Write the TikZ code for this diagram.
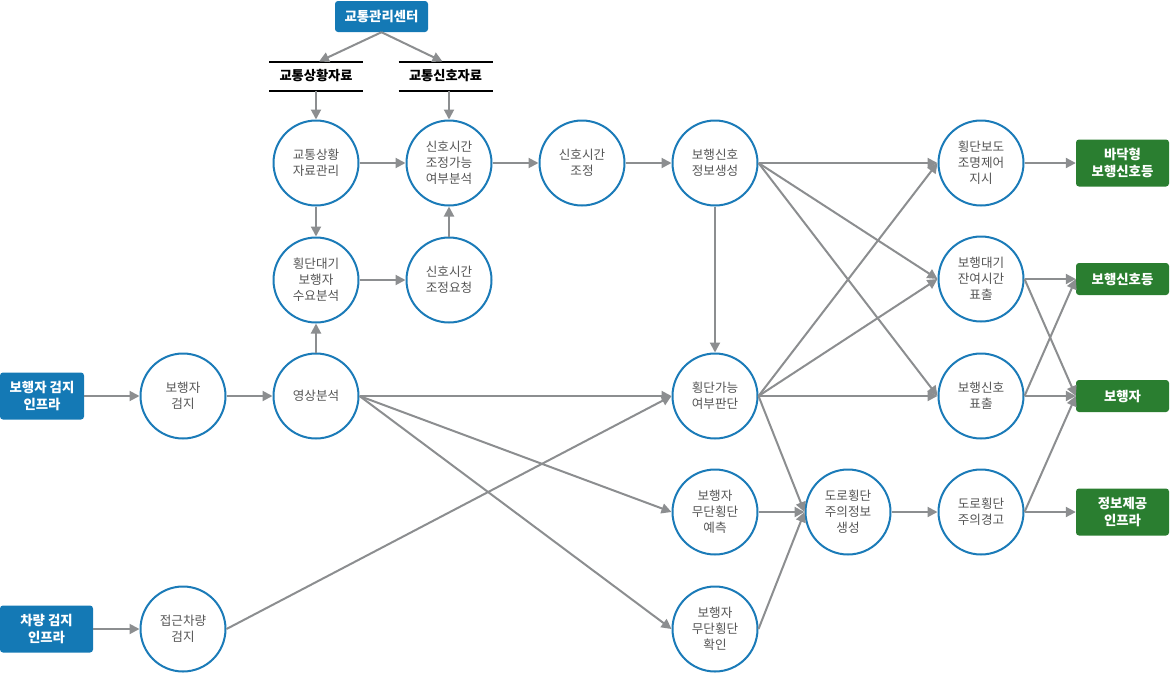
\documentclass[tikz,border=0pt]{standalone}
\usepackage{fontspec}
\setmainfont{Noto Sans CJK KR}
\usetikzlibrary{arrows.meta}
\definecolor{cblue}{HTML}{1B7BB8}
\definecolor{bbox}{HTML}{1479B5}
\definecolor{gbox}{HTML}{2A7E30}
\definecolor{agray}{HTML}{8C8E90}
\definecolor{tgray}{HTML}{555555}
\begin{document}
\begin{tikzpicture}[x=1pt,y=-1pt,
  proc/.style={circle, draw=cblue, line width=2pt, fill=white, minimum size=85pt, inner sep=0pt, align=center, text=tgray, font=\fontsize{12.6}{16}\selectfont},
  bluebox/.style={rectangle, rounded corners=3pt, fill=bbox, text=white, align=center, inner sep=0pt, font=\fontsize{13.4}{16.5}\selectfont\bfseries},
  greenbox/.style={bluebox, fill=gbox, minimum width=93pt},
  databox/.style={rectangle, minimum width=94pt, minimum height=29pt, inner sep=0pt, outer sep=0pt, text=black, font=\fontsize{13.2}{16}\selectfont\bfseries},
  rule/.style={draw=black, line width=2pt},
  arr/.style={draw=agray, line width=2pt, -{Triangle[length=10pt,width=10pt]}}
]
\useasboundingbox (0,0) rectangle (1170,673);

% top boxes
\node[bluebox, minimum width=93pt, minimum height=31pt] (tmc) at (381.5,16.5) {교통관리센터};
\node[databox] (dsit) at (316,76) {교통상황자료};
\node[databox] (dsig) at (445.5,76) {교통신호자료};
\draw[rule] (dsit.north west) -- (dsit.north east);
\draw[rule] (dsit.south west) -- (dsit.south east);
\draw[rule] (dsig.north west) -- (dsig.north east);
\draw[rule] (dsig.south west) -- (dsig.south east);

% left boxes
\node[bluebox, minimum width=84pt, minimum height=47pt] (pinf) at (42,396) {보행자 검지\\인프라};
\node[bluebox, minimum width=93pt, minimum height=47pt] (vinf) at (46.5,629) {차량 검지\\인프라};

% right boxes
\node[greenbox, minimum height=47pt] (g1) at (1122.5,163) {바닥형\\보행신호등};
\node[greenbox, minimum height=32pt] (g2) at (1122.5,279) {보행신호등};
\node[greenbox, minimum height=32pt] (g3) at (1122.5,396) {보행자};
\node[greenbox, minimum height=47pt] (g4) at (1122.5,512) {정보제공\\인프라};

% circles
\node[proc] (c11) at (316,163) {교통상황\\자료관리};
\node[proc] (c12) at (449,163) {신호시간\\조정가능\\여부분석};
\node[proc] (c13) at (582,163) {신호시간\\조정};
\node[proc] (c14) at (715,163) {보행신호\\정보생성};
\node[proc] (c16) at (981,163) {횡단보도\\조명제어\\지시};

\node[proc] (c21) at (316,280) {횡단대기\\보행자\\수요분석};
\node[proc] (c22) at (449,280) {신호시간\\조정요청};
\node[proc] (c26) at (981,279) {보행대기\\잔여시간\\표출};

\node[proc] (c30) at (183,396) {보행자\\검지};
\node[proc] (c31) at (316,396) {영상분석};
\node[proc] (c34) at (715,396) {횡단가능\\여부판단};
\node[proc] (c36) at (981,396) {보행신호\\표출};

\node[proc] (c44) at (715,512) {보행자\\무단횡단\\예측};
\node[proc] (c45) at (848,512) {도로횡단\\주의정보\\생성};
\node[proc] (c46) at (981,512) {도로횡단\\주의경고};

\node[proc] (c50) at (183,629) {접근차량\\검지};
\node[proc] (c54) at (715,629) {보행자\\무단횡단\\확인};

% connectors
\draw[arr] (tmc.south) -- ([xshift=3pt]dsit.north);
\draw[arr] (tmc.south) -- ([xshift=-3pt]dsig.north);
\draw[arr] (dsit.south) -- (c11.north);
\draw[arr] (dsig.south -| c12.north) -- (c12.north);
\draw[arr] (c11.east) -- (c12.west);
\draw[arr] (c11.south) -- (c21.north);
\draw[arr] (c21.east) -- (c22.west);
\draw[arr] (c22.north) -- (c12.south);
\draw[arr] (c12.east) -- (c13.west);
\draw[arr] (c13.east) -- (c14.west);
\draw[arr] (c14.east) -- (c16.west);
\draw[arr] (c14.east) -- (c26.west);
\draw[arr] (c14.east) -- (c36.west);
\draw[arr] (c14.south) -- (c34.north);

\draw[arr] (pinf.east) -- (c30.west);
\draw[arr] (c30.east) -- (c31.west);
\draw[arr] (c31.north) -- (c21.south);
\draw[arr] (c31.east) -- (c34.west);
\draw[arr] (c31.east) -- (c44.west);
\draw[arr] (c31.east) -- (c54.west);

\draw[arr] (vinf.east) -- (c50.west);
\draw[arr] (c50.east) -- (c34.west);

\draw[arr] (c34.east) -- (c16.west);
\draw[arr] (c34.east) -- (c26.west);
\draw[arr] (c34.east) -- (c36.west);
\draw[arr] (c34.east) -- (c45.west);
\draw[arr] (c44.east) -- (c45.west);
\draw[arr] (c54.east) -- (c45.west);
\draw[arr] (c45.east) -- (c46.west);

\draw[arr] (c16.east) -- (g1.west);
\draw[arr] (c26.east) -- (g2.west);
\draw[arr] (c26.east) -- (g3.west);
\draw[arr] (c36.east) -- (g2.west);
\draw[arr] (c36.east) -- (g3.west);
\draw[arr] (c46.east) -- (g3.west);
\draw[arr] (c46.east) -- (g4.west);
\end{tikzpicture}
\end{document}
